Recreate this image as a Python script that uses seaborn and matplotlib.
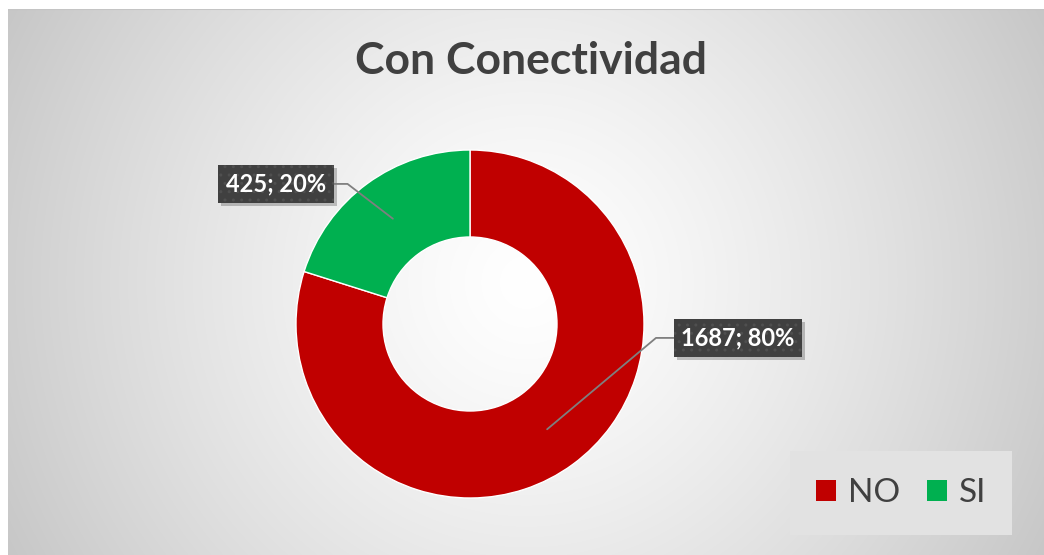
import matplotlib.pyplot as plt
import matplotlib.transforms as mtransforms
from matplotlib.patches import Patch, Rectangle
import seaborn as sns
import numpy as np

# datos
categorias = ['NO', 'SI']
valores = [1687, 425]
colores = ['#C00000', '#00B050']
titulo = 'Con Conectividad'

sns.set_theme(style='white')
plt.rcParams['font.family'] = ['Lato', 'DejaVu Sans']

W, H = 1044, 555
fig = plt.figure(figsize=(W / 100, H / 100), dpi=100)
fig.patch.set_facecolor('white')

# fondo con degradado radial (area del grafico)
x0, y0 = 8, 9
bg = fig.add_axes([x0 / W, 0, 1 - x0 / W, 1 - y0 / H])
bg.set_axis_off()
yy, xx = np.mgrid[0:H - y0, 0:W - x0]
cx, cy = (W - x0) / 2, (H - y0) / 2
r = np.hypot(xx - cx, yy - cy) / np.hypot(cx, cy)
g = 1.0 - 0.22 * np.clip(r, 0, 1) ** 1.3
bg.imshow(np.dstack([g, g, g]), aspect='auto', extent=(0, 1, 0, 1), origin='upper')
bg.plot([0, 1], [1, 1], color='#c4c4c4', lw=1.5, transform=bg.transAxes)
bg.set_xlim(0, 1)
bg.set_ylim(0, 1)

fig.text(531 / W, 1 - 61 / H, titulo, ha='center', va='center',
         fontsize=32, fontweight='bold', color='#404040')

# dona
cxp, cyp, rad = 470, 324, 174
ax = fig.add_axes([(cxp - rad) / W, (H - cyp - rad) / H, 2 * rad / W, 2 * rad / H])
wedges, _ = ax.pie(valores, colors=colores, startangle=90, counterclock=False,
                   radius=1, wedgeprops=dict(width=0.5, edgecolor='white', linewidth=1))
ax.set_xlim(-1, 1)
ax.set_ylim(-1, 1)
ax.set_axis_off()

total = sum(valores)
pos_texto = [(1.54, -0.08), (-1.115, 0.805)]
relpos = [(0, 0.5), (1, 0.5)]
angulo_b = [40, -37.5]
etiquetas = []
for i, (w, v) in enumerate(zip(wedges, valores)):
    ang = np.deg2rad((w.theta1 + w.theta2) / 2)
    xy = (0.75 * np.cos(ang), 0.75 * np.sin(ang))
    texto = f'{v}; {round(100 * v / total)}%'
    ann = ax.annotate(texto, xy=xy, xytext=pos_texto[i], color='white',
                      ha='center', va='center', fontsize=17, fontweight='bold',
                      bbox=dict(boxstyle='square,pad=0.32', fc='#404040', ec='#4f4f4f',
                                lw=0, hatch='..'),
                      arrowprops=dict(arrowstyle='-', color='#7f7f7f', lw=1.3,
                                      relpos=relpos[i], shrinkA=0, shrinkB=0,
                                      connectionstyle=f'angle,angleA=0,angleB={angulo_b[i]},rad=0'),
                      annotation_clip=False, zorder=5)
    etiquetas.append(ann)

# sombra de las etiquetas
fig.canvas.draw()
for ann in etiquetas:
    bb = ann.get_bbox_patch().get_window_extent()
    ax.add_patch(Rectangle((bb.x0 + 3, bb.y0 - 3), bb.width, bb.height,
                           transform=mtransforms.IdentityTransform(), fc='black',
                           ec='none', alpha=0.22, clip_on=False, zorder=4))

handles = [Patch(facecolor=c, edgecolor='none') for c in colores]
leg = fig.legend(handles, categorias, ncol=2, loc='center',
                 bbox_to_anchor=(901 / W, 1 - 493 / H), bbox_transform=fig.transFigure,
                 fontsize=24, frameon=True, fancybox=False, handlelength=0.6,
                 handleheight=0.6, handletextpad=0.35, columnspacing=0.8,
                 borderpad=0.8, labelcolor='#404040')
leg.get_frame().set_facecolor('#e2e2e2')
leg.get_frame().set_edgecolor('none')
leg.get_frame().set_alpha(1)

fig.savefig('out.png', dpi=100)
